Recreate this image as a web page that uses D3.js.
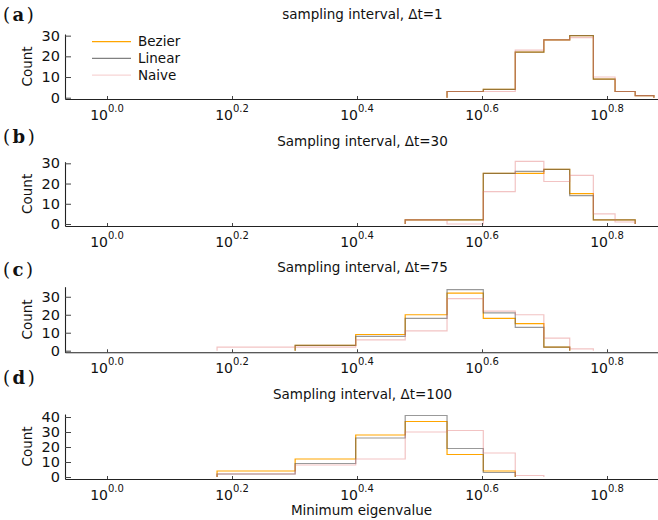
<!DOCTYPE html>
<html><head><meta charset="utf-8">
<script src="https://cdn.jsdelivr.net/npm/d3@7"></script>
<style>body{margin:0;background:#fff}svg{display:block}</style>
</head><body><svg id="chart" width="658" height="520"></svg>
<script>
// ---------- data ----------
const seriesNames = ["Bezier", "Linear", "Naive"];
const panelLetters = ["a", "b", "c", "d"];
const panelTitles = ["sampling interval, Δt=1", "Sampling interval, Δt=30", "Sampling interval, Δt=75", "Sampling interval, Δt=100"];

const binEdgesA = [3.5, 4.0, 4.5, 5.0, 5.5, 6.0, 6.5, 7.0, 7.5];
const bezierA   = [3, 4, 22, 28, 30, 9, 3, 1];
const linearA   = [3, 4, 22, 28, 30, 9, 3, 1];
const naiveA    = [3, 3, 23, 28, 29, 10, 3, 1];

const binEdgesB = [3.0, 3.5, 4.0, 4.5, 5.0, 5.5, 6.0, 6.5, 7.0];
const bezierB   = [2, 2, 25, 25, 27, 15, 2, 2];
const linearB   = [2, 2, 25, 26, 27, 14, 2, 2];
const naiveB    = [2, 0, 16, 31, 21, 24, 5, 1];

const binEdgesC = [1.5, 2.0, 2.5, 3.0, 3.5, 4.0, 4.5, 5.0, 5.5, 6.0];
const bezierC   = [0, 3, 9, 20, 32, 18, 15, 2, 0];
const linearC   = [0, 3, 8, 18, 34, 21, 13, 2, 0];
const naiveC    = [2, 2, 6, 11, 29, 22, 20, 7, 1];

const binEdgesD = [1.5, 2.0, 2.5, 3.0, 3.5, 4.0, 4.5, 5.0];
const bezierD   = [4, 12, 28, 37, 15, 4, 0];
const linearD   = [2, 9, 26, 41, 19, 3, 0];
const naiveD    = [2, 8, 12, 30, 31, 16, 1];

const xTickExponents = [0.0, 0.2, 0.4, 0.6, 0.8];
const xTickExpLabels = ["0.0", "0.2", "0.4", "0.6", "0.8"];
const yTicksA = [0, 10, 20, 30];
const yTicksB = [0, 10, 20, 30];
const yTicksC = [0, 10, 20, 30];
const yTicksD = [0, 10, 20, 30, 40];
const xLabel = "Minimum eigenvalue";
const yLabel = "Count";

// ---------- build ----------
const panels = [
  {edges: binEdgesA, series: [bezierA, linearA, naiveA], yTicks: yTicksA},
  {edges: binEdgesB, series: [bezierB, linearB, naiveB], yTicks: yTicksB},
  {edges: binEdgesC, series: [bezierC, linearC, naiveC], yTicks: yTicksC},
  {edges: binEdgesD, series: [bezierD, linearD, naiveD], yTicks: yTicksD}
];
const layout = [
  {top: 34,    bottom: 99,    yDom: [-0.63, 30.8], letterY: 21,  titleY: 19},
  {top: 161.7, bottom: 226,   yDom: [-0.99, 30.8], letterY: 143, titleY: 146},
  {top: 286.7, bottom: 352.3, yDom: [-0.9, 35.6],  letterY: 276, titleY: 272},
  {top: 414,   bottom: 479,   yDom: [-1.33, 42],   letterY: 384, titleY: 399}
];
const plotL = 65, plotR = 658;
const colors = {Bezier: "#ffa500", Linear: "#555555", Naive: "#e07070"};
const opac = {Bezier: 1, Linear: 0.6, Naive: 0.42};
const font = "'DejaVu Sans', sans-serif";

const svg = d3.select("#chart");
const x = d3.scaleLog().domain([Math.pow(10, -0.0672), Math.pow(10, 0.8816)]).range([plotL, plotR]);

panels.forEach((p, i) => {
  const L = layout[i];
  const y = d3.scaleLinear().domain(L.yDom).range([L.bottom, L.top]);
  const g = svg.append("g");

  // histograms (step lines)
  p.series.forEach((counts, si) => {
    const name = seriesNames[si];
    let i0 = counts.findIndex(c => c > 0);
    let i1 = counts.length - 1;
    while (i1 > 0 && counts[i1] === 0) i1--;
    const pts = [[p.edges[i0], 0]];
    for (let k = i0; k <= i1; k++) {
      pts.push([p.edges[k], counts[k]]);
      pts.push([p.edges[k + 1], counts[k]]);
    }
    pts.push([p.edges[i1 + 1], 0]);
    g.append("path")
      .attr("d", d3.line().x(d => x(d[0])).y(d => y(d[1]))(pts))
      .attr("fill", "none")
      .attr("stroke", colors[name])
      .attr("stroke-opacity", opac[name])
      .attr("stroke-width", 1.2);
  });

  // y axis
  const ya = g.append("g").attr("transform", `translate(${plotL},0)`)
    .call(d3.axisLeft(y).tickValues(p.yTicks).tickSizeInner(-6).tickSizeOuter(0).tickPadding(5));
  ya.select(".domain").attr("stroke", "#222").attr("stroke-width", 1.1);
  ya.selectAll(".tick line").attr("stroke", "#444");
  ya.selectAll(".tick text").attr("font-family", font).attr("font-size", 14.5).attr("fill", "#111");

  // x axis
  const xa = g.append("g").attr("transform", `translate(0,${L.bottom})`)
    .call(d3.axisBottom(x).tickValues(xTickExponents.map(e => Math.pow(10, e)))
      .tickSizeInner(-3).tickSizeOuter(0).tickFormat(""));
  xa.select(".domain").attr("stroke", "#222").attr("stroke-width", 1.1);
  xa.selectAll(".tick line").attr("stroke", "#444");

  xTickExponents.forEach((e, k) => {
    const t = g.append("text")
      .attr("x", x(Math.pow(10, e)))
      .attr("y", L.bottom + 21)
      .attr("text-anchor", "middle")
      .attr("font-family", font)
      .attr("fill", "#111");
    t.append("tspan").attr("font-size", 14).text("10");
    t.append("tspan").attr("font-size", 10).attr("dy", -8.5).text(xTickExpLabels[k]);
  });

  // y label
  g.append("text")
    .attr("transform", `translate(32,${(L.top + L.bottom) / 2}) rotate(-90)`)
    .attr("text-anchor", "middle")
    .attr("font-family", font).attr("font-size", 13.5).attr("fill", "#111")
    .text(yLabel);

  // title
  g.append("text")
    .attr("x", (plotL + plotR) / 2 + 1).attr("y", L.titleY)
    .attr("text-anchor", "middle")
    .attr("font-family", font).attr("font-size", 13.5).attr("fill", "#111")
    .text(panelTitles[i]);

  // panel letter
  const lt = g.append("text")
    .attr("x", 3).attr("y", L.letterY)
    .attr("font-family", "'DejaVu Serif', serif").attr("font-size", 18).attr("fill", "#111");
  lt.append("tspan").attr("font-weight", "300").text("(");
  lt.append("tspan").attr("font-weight", "bold").attr("dx", 2.5).text(panelLetters[i]);
  lt.append("tspan").attr("font-weight", "300").attr("dx", 2.5).text(")");
});

// legend (panel a)
const leg = svg.append("g");
seriesNames.forEach((name, k) => {
  const ly = 41.7 + k * 16.7;
  leg.append("line").attr("x1", 92).attr("x2", 131).attr("y1", ly).attr("y2", ly)
    .attr("stroke", colors[name]).attr("stroke-opacity", name === "Naive" ? 0.3 : (name === "Linear" ? 0.75 : 1))
    .attr("stroke-width", 1.2);
  leg.append("text").attr("x", 138).attr("y", ly).attr("dy", "0.35em")
    .attr("font-family", font).attr("font-size", 13.5).attr("fill", "#111").text(name);
});

// x label
svg.append("text")
  .attr("x", (plotL + plotR) / 2).attr("y", 515)
  .attr("text-anchor", "middle")
  .attr("font-family", font).attr("font-size", 13.5).attr("fill", "#111")
  .text(xLabel);
</script>
</body></html>
